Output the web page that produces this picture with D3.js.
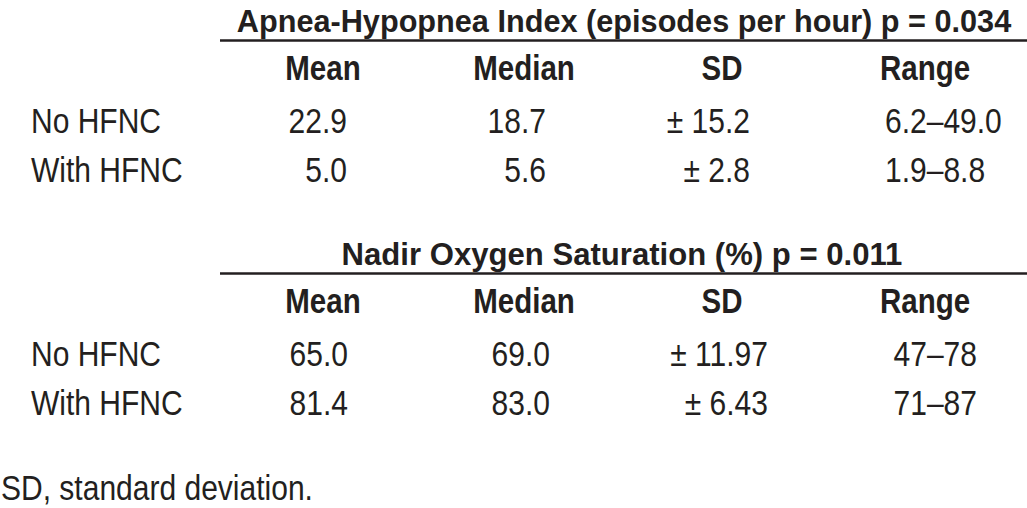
<!DOCTYPE html>
<html>
<head>
<meta charset="utf-8">
<script src="https://cdn.jsdelivr.net/npm/d3@7"></script>
<style>
  html, body { margin: 0; padding: 0; background: #fff; }
  svg { display: block; }
  text { font-family: "Liberation Sans Narrow", "Arial Narrow", "Liberation Sans", Arial, sans-serif; fill: #231f20; }
</style>
</head>
<body>
<svg id="chart" width="1027" height="508"></svg>
<script>
const groups = ['No HFNC', 'With HFNC'];
const columns = ['Mean', 'Median', 'SD', 'Range'];

const ahiTitle = 'Apnea-Hypopnea Index (episodes per hour) p = 0.034';
const ahiMean = [22.9, 5.0];
const ahiMedian = [18.7, 5.6];
const ahiSD = [15.2, 2.8];
const ahiRange = [[6.2, 49.0], [1.9, 8.8]];

const spoTitle = 'Nadir Oxygen Saturation (%) p = 0.011';
const spoMean = [65.0, 81.4];
const spoMedian = [69.0, 83.0];
const spoSD = [11.97, 6.43];
const spoRange = [[47, 78], [71, 87]];

const footnote = 'SD, standard deviation.';

const svg = d3.select('#chart');
const REG = { size: 34.5, sx: 0.87 };   // regular, squeezed to look condensed
const BOLD = { size: 36, sx: 0.82 };
const TITLE_SIZE = 32;

// places a text at (x, y) with horizontal squeeze
function put(sel, x, y, f) {
  return sel.attr('transform', `translate(${x},${y}) scale(${f.sx},1)`)
    .attr('font-size', f.size);
}

// column header centres
const headerX = d3.scaleOrdinal().domain(columns).range([323, 524, 722, 925]);

const tables = [
  {
    title: ahiTitle, titleX: 624, titleW: 775, top: 29,
    cells: groups.map((g, i) => [
      d3.format('.1f')(ahiMean[i]),
      d3.format('.1f')(ahiMedian[i]),
      '\u00b1 ' + d3.format('.1f')(ahiSD[i]),
      ahiRange[i].map(d3.format('.1f')).join('\u2013')
    ]),
    valueX: d3.scaleOrdinal().domain(columns).range([347, 546, 750, 885]),
    anchor: ['end', 'end', 'end', 'start']
  },
  {
    title: spoTitle, titleX: 622, titleW: 561, top: 262,
    cells: groups.map((g, i) => [
      d3.format('.1f')(spoMean[i]),
      d3.format('.1f')(spoMedian[i]),
      '\u00b1 ' + d3.format('.2f')(spoSD[i]),
      spoRange[i].map(d3.format('d')).join('\u2013')
    ]),
    valueX: d3.scaleOrdinal().domain(columns).range([348, 550, 768, 977]),
    anchor: ['end', 'end', 'end', 'end']
  }
];

tables.forEach(t => {
  const g = svg.append('g').attr('transform', `translate(0, ${t.top})`);

  // row baselines relative to title baseline
  const rowY = d3.scaleLinear().domain([0, 1]).range([103.5, 153]);

  // title: squeeze to the measured width of the original
  const title = g.append('text')
    .attr('text-anchor', 'middle')
    .attr('font-weight', 'bold')
    .attr('font-size', TITLE_SIZE)
    .text(t.title);
  const natural = title.node().getComputedTextLength();
  put(title, t.titleX, 2.5, { size: TITLE_SIZE, sx: t.titleW / natural });

  g.append('line')
    .attr('x1', 220).attr('x2', 1027)
    .attr('y1', 11.5).attr('y2', 11.5)
    .attr('stroke', '#231f20').attr('stroke-width', 2.5);

  g.selectAll('.hdr')
    .data(columns)
    .join('text')
    .attr('class', 'hdr')
    .call(s => s.each(function (d) { put(d3.select(this), headerX(d), 50.5, BOLD); }))
    .attr('text-anchor', 'middle')
    .attr('font-weight', 'bold')
    .text(d => d);

  g.selectAll('.grp')
    .data(groups)
    .join('text')
    .attr('class', 'grp')
    .call(s => s.each(function (d, i) { put(d3.select(this), 31, rowY(i), REG); }))
    .text(d => d);

  t.cells.forEach((row, i) => {
    g.selectAll('.v' + i)
      .data(row)
      .join('text')
      .attr('class', 'v' + i)
      .call(s => s.each(function (d, j) { put(d3.select(this), t.valueX(columns[j]), rowY(i), REG); }))
      .attr('text-anchor', (d, j) => t.anchor[j])
      .text(d => d);
  });
});

put(svg.append('text'), 1, 500, REG).text(footnote);
</script>
</body>
</html>
